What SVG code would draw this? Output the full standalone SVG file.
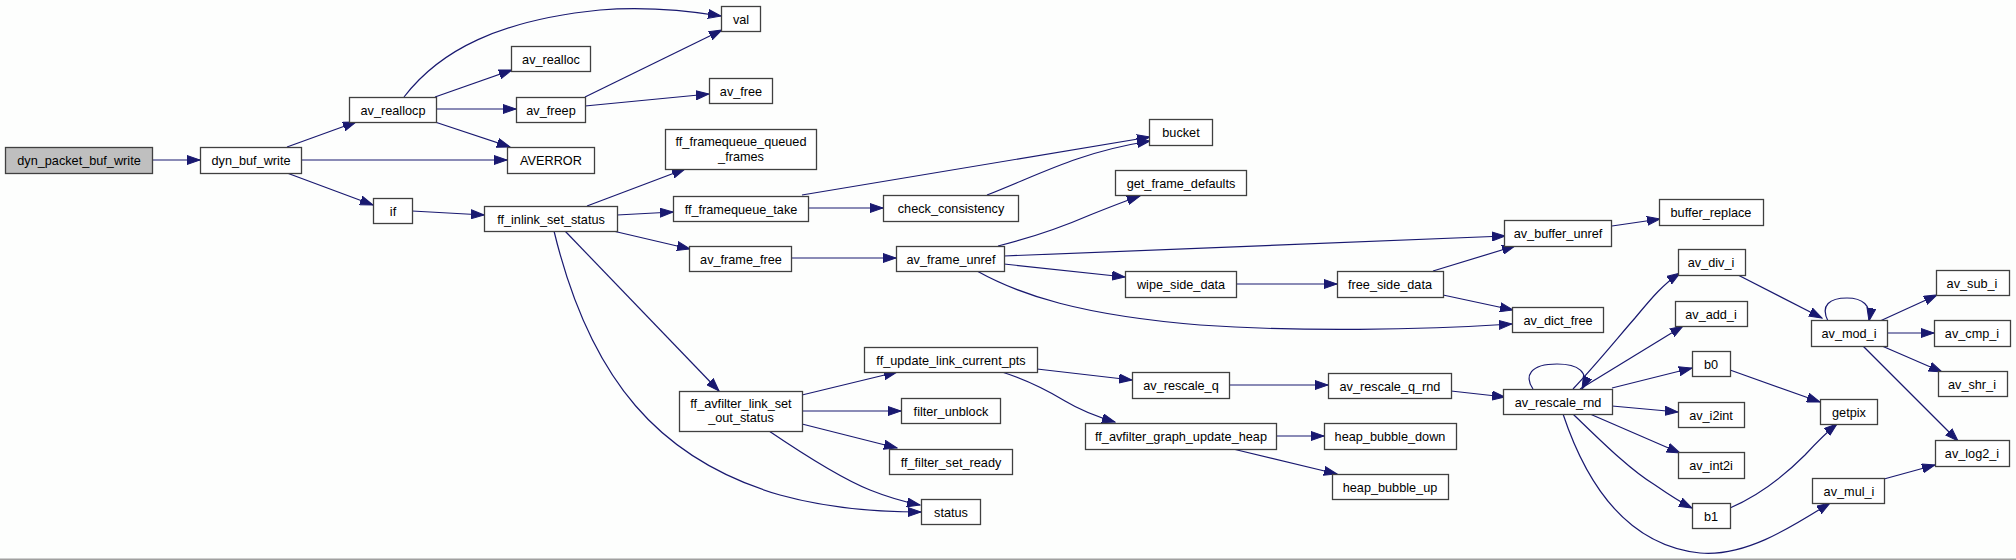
<svg xmlns="http://www.w3.org/2000/svg" width="2016" height="560" viewBox="0 0 2016 560">
<style>
.n rect{fill:#ffffff;stroke:#404040;stroke-width:1.3}
.n.root rect{fill:#bfbfbf}
.n text{font-family:"Liberation Sans",Arial,sans-serif;font-size:12.7px;fill:#000;text-anchor:middle}
#edges path{fill:none;stroke:#191970;stroke-width:1.2;marker-end:url(#ah)}
</style>
<defs>
<marker id="ah" markerUnits="userSpaceOnUse" markerWidth="14" markerHeight="10" refX="13" refY="5" orient="auto">
<path d="M0,0.5 L13,5 L0,9.5 z" fill="#191970" stroke="#191970" stroke-width="1"/>
</marker>
</defs>
<rect x="0" y="0" width="2016" height="560" fill="#fdfefd"/>
<rect x="0" y="558.5" width="2016" height="1.5" fill="#a0a0a0"/>
<g id="edges">
<path d="M152,160 L200,160"/>
<path d="M287,147 L356,122"/>
<path d="M301,160 L507,160"/>
<path d="M287,173 L373,205"/>
<path d="M404,97 C440,50 500,20 600,10 C650,6 690,11 721,16"/>
<path d="M435,97 L512,70"/>
<path d="M436,109 L516,109"/>
<path d="M435,122 L510,147"/>
<path d="M585,97 L722,30"/>
<path d="M585,106 L709,94"/>
<path d="M412,211 L484,215"/>
<path d="M587,206 L685,169"/>
<path d="M617,215 L673,212"/>
<path d="M613,231 L690,249"/>
<path d="M565,231 L719,391"/>
<path d="M554,231 C590,380 660,460 780,495 C830,509 880,512 921,512"/>
<path d="M802,195 L1150,137"/>
<path d="M808,208 L883,208"/>
<path d="M987,195 C1020,182 1050,168 1077,159 C1100,151 1125,145 1150,141"/>
<path d="M791,258 L896,258"/>
<path d="M998,246 C1030,238 1060,228 1090,215 C1110,207 1125,201 1140,196"/>
<path d="M1004,256 L1505,236"/>
<path d="M1004,264 L1125,277"/>
<path d="M977,271 C1020,295 1080,315 1200,325 C1300,332 1420,330 1512,324"/>
<path d="M1236,284 L1337,284"/>
<path d="M1433,271 L1515,246"/>
<path d="M1443,295 L1513,310"/>
<path d="M1612,226 L1660,219"/>
<path d="M802,395 L897,372"/>
<path d="M802,411 L901,411"/>
<path d="M802,424 L897,448"/>
<path d="M769,431 C800,452 840,478 870,490 C890,498 905,502 920,505"/>
<path d="M1037,369 L1132,380"/>
<path d="M1002,372 C1030,381 1050,392 1065,401 C1080,410 1098,417 1115,422"/>
<path d="M1229,385 L1328,385"/>
<path d="M1451,391 L1505,397"/>
<path d="M1276,436 L1324,436"/>
<path d="M1233,449 L1337,474"/>
<path d="M1533,389 C1524,376 1530,364 1557,364 C1578,364 1590,372 1582,389"/>
<path d="M1573,389 C1600,360 1620,335 1635,318 C1650,300 1662,285 1680,273"/>
<path d="M1580,389 L1683,326"/>
<path d="M1612,388 L1692,368"/>
<path d="M1612,406 L1678,412"/>
<path d="M1590,414 L1680,453"/>
<path d="M1573,414 C1600,440 1630,470 1655,485 C1668,494 1680,502 1692,508"/>
<path d="M1563,414 C1585,480 1625,545 1700,553 C1745,557 1790,528 1830,503"/>
<path d="M1738,275 L1822,318"/>
<path d="M1828,321 C1820,305 1830,298 1847,298 C1862,298 1872,305 1869,321"/>
<path d="M1880,321 L1937,295"/>
<path d="M1887,333 L1934,333"/>
<path d="M1882,346 L1942,372"/>
<path d="M1863,346 L1958,441"/>
<path d="M1730,370 L1820,402"/>
<path d="M1730,508 C1760,495 1785,475 1805,455 C1817,442 1827,432 1837,424"/>
<path d="M1884,479 L1935,465"/>
</g>
<g id="dyn_packet_buf_write" class="n root"><rect x="5.5" y="147.5" width="147" height="26"/><text x="79" y="165">dyn_packet_buf_write</text></g>
<g id="dyn_buf_write" class="n"><rect x="200.5" y="147.5" width="101" height="26"/><text x="251" y="165">dyn_buf_write</text></g>
<g id="av_reallocp" class="n"><rect x="349.5" y="97.5" width="87" height="25"/><text x="393" y="114.5">av_reallocp</text></g>
<g id="if" class="n"><rect x="373.5" y="198.5" width="39" height="25"/><text x="393" y="215.5">if</text></g>
<g id="val" class="n"><rect x="721.5" y="6.5" width="39" height="25"/><text x="741" y="23.5">val</text></g>
<g id="av_realloc" class="n"><rect x="511.5" y="46.5" width="79" height="25"/><text x="551" y="63.5">av_realloc</text></g>
<g id="av_freep" class="n"><rect x="516.5" y="97.5" width="69" height="25"/><text x="551" y="114.5">av_freep</text></g>
<g id="av_free" class="n"><rect x="709.5" y="78.5" width="63" height="25"/><text x="741" y="95.5">av_free</text></g>
<g id="AVERROR" class="n"><rect x="507.5" y="147.5" width="87" height="26"/><text x="551" y="165">AVERROR</text></g>
<g id="ff_framequeue_queued_frames" class="n"><rect x="665.5" y="129.5" width="151" height="40"/><text x="741" y="145.5">ff_framequeue_queued</text><text x="741" y="160.5">_frames</text></g>
<g id="ff_framequeue_take" class="n"><rect x="673.5" y="196.5" width="135" height="25"/><text x="741" y="213.5">ff_framequeue_take</text></g>
<g id="ff_inlink_set_status" class="n"><rect x="484.5" y="206.5" width="133" height="25"/><text x="551" y="223.5">ff_inlink_set_status</text></g>
<g id="av_frame_free" class="n"><rect x="689.5" y="246.5" width="102" height="25"/><text x="741" y="263.5">av_frame_free</text></g>
<g id="ff_avfilter_link_set_out_status" class="n"><rect x="679.5" y="391.5" width="123" height="40"/><text x="741" y="407.5">ff_avfilter_link_set</text><text x="741" y="422">_out_status</text></g>
<g id="bucket" class="n"><rect x="1149.5" y="119.5" width="63" height="26"/><text x="1181" y="137">bucket</text></g>
<g id="check_consistency" class="n"><rect x="883.5" y="195.5" width="135" height="26"/><text x="951" y="213">check_consistency</text></g>
<g id="get_frame_defaults" class="n"><rect x="1115.5" y="170.5" width="131" height="25"/><text x="1181" y="187.5">get_frame_defaults</text></g>
<g id="av_frame_unref" class="n"><rect x="896.5" y="246.5" width="108" height="25"/><text x="951" y="263.5">av_frame_unref</text></g>
<g id="wipe_side_data" class="n"><rect x="1125.5" y="271.5" width="111" height="26"/><text x="1181" y="289">wipe_side_data</text></g>
<g id="ff_update_link_current_pts" class="n"><rect x="864.5" y="347.5" width="173" height="25"/><text x="951" y="364.5">ff_update_link_current_pts</text></g>
<g id="filter_unblock" class="n"><rect x="901.5" y="398.5" width="99" height="25"/><text x="951" y="415.5">filter_unblock</text></g>
<g id="ff_filter_set_ready" class="n"><rect x="889.5" y="449.5" width="123" height="25"/><text x="951" y="466.5">ff_filter_set_ready</text></g>
<g id="status" class="n"><rect x="921.5" y="499.5" width="59" height="25"/><text x="951" y="516.5">status</text></g>
<g id="av_rescale_q" class="n"><rect x="1132.5" y="372.5" width="97" height="26"/><text x="1181" y="390">av_rescale_q</text></g>
<g id="ff_avfilter_graph_update_heap" class="n"><rect x="1085.5" y="423.5" width="191" height="26"/><text x="1181" y="441">ff_avfilter_graph_update_heap</text></g>
<g id="av_buffer_unref" class="n"><rect x="1504.5" y="220.5" width="107" height="26"/><text x="1558" y="238">av_buffer_unref</text></g>
<g id="free_side_data" class="n"><rect x="1337.5" y="271.5" width="106" height="26"/><text x="1390" y="289">free_side_data</text></g>
<g id="av_dict_free" class="n"><rect x="1512.5" y="307.5" width="91" height="25"/><text x="1558" y="324.5">av_dict_free</text></g>
<g id="av_rescale_q_rnd" class="n"><rect x="1328.5" y="373.5" width="123" height="25"/><text x="1390" y="390.5">av_rescale_q_rnd</text></g>
<g id="av_rescale_rnd" class="n"><rect x="1503.5" y="389.5" width="109" height="25"/><text x="1558" y="406.5">av_rescale_rnd</text></g>
<g id="heap_bubble_down" class="n"><rect x="1324.5" y="423.5" width="132" height="26"/><text x="1390" y="441">heap_bubble_down</text></g>
<g id="heap_bubble_up" class="n"><rect x="1332.5" y="474.5" width="116" height="25"/><text x="1390" y="491.5">heap_bubble_up</text></g>
<g id="buffer_replace" class="n"><rect x="1659.5" y="199.5" width="104" height="26"/><text x="1711" y="217">buffer_replace</text></g>
<g id="av_div_i" class="n"><rect x="1678.5" y="249.5" width="67" height="26"/><text x="1711" y="267">av_div_i</text></g>
<g id="av_add_i" class="n"><rect x="1675.5" y="301.5" width="72" height="25"/><text x="1711" y="318.5">av_add_i</text></g>
<g id="b0" class="n"><rect x="1692.5" y="351.5" width="38" height="25"/><text x="1711" y="368.5">b0</text></g>
<g id="av_i2int" class="n"><rect x="1678.5" y="402.5" width="66" height="25"/><text x="1711" y="419.5">av_i2int</text></g>
<g id="av_int2i" class="n"><rect x="1678.5" y="452.5" width="66" height="26"/><text x="1711" y="470">av_int2i</text></g>
<g id="b1" class="n"><rect x="1692.5" y="503.5" width="38" height="25"/><text x="1711" y="520.5">b1</text></g>
<g id="av_mod_i" class="n"><rect x="1811.5" y="320.5" width="76" height="26"/><text x="1849" y="338">av_mod_i</text></g>
<g id="getpix" class="n"><rect x="1820.5" y="399.5" width="57" height="25"/><text x="1849" y="416.5">getpix</text></g>
<g id="av_mul_i" class="n"><rect x="1812.5" y="478.5" width="72" height="25"/><text x="1849" y="495.5">av_mul_i</text></g>
<g id="av_sub_i" class="n"><rect x="1936.5" y="270.5" width="73" height="25"/><text x="1972" y="287.5">av_sub_i</text></g>
<g id="av_cmp_i" class="n"><rect x="1934.5" y="320.5" width="76" height="26"/><text x="1972" y="338">av_cmp_i</text></g>
<g id="av_shr_i" class="n"><rect x="1938.5" y="371.5" width="69" height="25"/><text x="1972" y="388.5">av_shr_i</text></g>
<g id="av_log2_i" class="n"><rect x="1935.5" y="440.5" width="74" height="26"/><text x="1972" y="458">av_log2_i</text></g>
</svg>
